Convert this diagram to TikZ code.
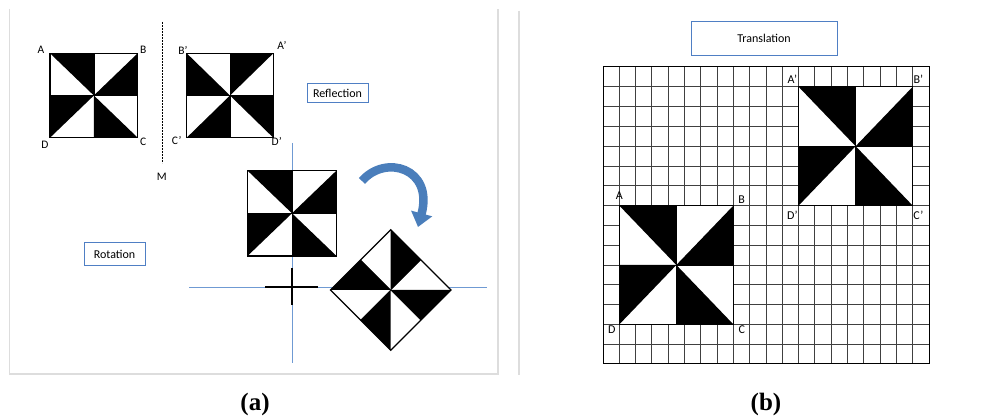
\documentclass[tikz,border=0pt]{standalone}
\usepackage{fontspec}
\setmainfont{Carlito}
\newfontfamily\capfont{Liberation Serif}
\usetikzlibrary{arrows.meta}

\definecolor{boxblue}{HTML}{4F7FC4}
\definecolor{axisblue}{HTML}{6F9AD3}
\definecolor{arrowblue}{HTML}{4A7EBB}
\definecolor{framegray}{HTML}{DDDDDD}

% one pinwheel square, drawn on [-1,1]x[-1,1]
\tikzset{
  pinwheel/.pic={
    \fill[white] (-1,-1) rectangle (1,1);
    \fill[black] (-1,-1) -- (0,-1) -- (0,0) -- cycle;
    \fill[black] (0,0) -- (1,-1) -- (1,0) -- cycle;
    \fill[black] (-1,0) -- (0,0) -- (-1,1) -- cycle;
    \fill[black] (0,0) -- (1,1) -- (0,1) -- cycle;
    \draw[line width=0.5pt] (-1,0) -- (1,0) (0,-1) -- (0,1);
    \draw[line width=1.3pt] (-1,-1) rectangle (1,1);
  }
}

\begin{document}
\begin{tikzpicture}[
    x=1pt, y=-1pt,
    every node/.style={inner sep=0pt},
    ptlabel/.style={font=\fontsize{11.5}{13}\selectfont},
    gridlabel/.style={font=\fontsize{12}{14}\selectfont},
    tagbox/.style={draw=boxblue, line width=1pt, fill=white,
      minimum width=61pt, minimum height=19pt, font=\fontsize{12}{14}\selectfont},
    caption/.style={font=\capfont\bfseries\fontsize{25}{27}\selectfont},
    axis/.style={axisblue, line width=0.9pt},
    gridline/.style={black!75, line width=0.9pt}
]
\useasboundingbox (0,0) rectangle (997,419);

% panel frame and separator
\draw[framegray, line width=1.3pt] (9.5,9) -- (9.5,374) -- (498,374) -- (498,9);
\draw[framegray, line width=1.3pt] (519,11) -- (519,375);

% reflection
\pic[xscale=43.85, yscale=42.2] at (93.85,95.5) {pinwheel};
\pic[xscale=-43.3, yscale=42.2] at (230,95.5) {pinwheel};
\draw[line width=1.2pt, dash pattern=on 2pt off 1pt] (162.5,22) -- (162.5,163);
\node[ptlabel] (lA) at (41,50) {A};
\node[ptlabel] (lB) at (143.3,50) {B};
\node[ptlabel] (lC) at (143.3,141.7) {C};
\node[ptlabel] (lD) at (45,145) {D};
\node[ptlabel] (mB) at (183,50) {B’};
\node[ptlabel] (mA) at (282,45) {A’};
\node[ptlabel] (mC) at (176.7,140) {C’};
\node[ptlabel] (mD) at (276.7,141.7) {D’};
\node[ptlabel] (mirror) at (161.7,176.7) {M};
\node[tagbox] (reflect) at (337.5,93.3) {Reflection};

% rotation
\draw[axis] (292,143) -- (292,363);
\draw[axis] (189,287) -- (487,287);
\draw[line width=1.6pt] (265,287) -- (318,287) (292,268) -- (292,305);
\pic[xscale=44.5, yscale=42.7] at (292,213.3) {pinwheel};
\pic[rotate=45, scale=42.6] at (390.7,290) {pinwheel};
\draw[arrowblue, line width=8.5pt, -{Triangle[width=21pt, length=14pt]}]
  (362,181) .. controls (385,154) and (434,168) .. (418,227);
\node[tagbox, minimum height=23pt] (rotate) at (114.5,254.5) {Rotation};

% translation
\node[tagbox, minimum width=146pt, minimum height=34pt] (translate) at (764,38.7) {Translation};
\begin{scope}[shift={(603,67)}, x=16.3pt, y=-19.8pt]
  \foreach \c in {1,...,19} \draw[gridline] (\c,0) -- (\c,15);
  \foreach \r in {1,...,14} \draw[gridline] (0,\r) -- (20,\r);
  \draw[line width=1pt] (0,0) rectangle (20,15);
  \pic[xscale=3.5, yscale=3] at (4.5,10) {pinwheel};
  \pic[xscale=3.5, yscale=3] at (15.5,4) {pinwheel};
\end{scope}
\node[gridlabel] (gA) at (619.3,195.7) {A};
\node[gridlabel] (gB) at (741.7,200) {B};
\node[gridlabel] (gC) at (741.7,330) {C};
\node[gridlabel] (gD) at (611.7,330) {D};
\node[gridlabel] (tA) at (792.3,79) {A’};
\node[gridlabel] (tB) at (918.3,79) {B’};
\node[gridlabel] (tC) at (918.3,215) {C’};
\node[gridlabel] (tD) at (792.3,215) {D’};

% captions
\node[caption] (capa) at (255,404) {(a)};
\node[caption] (capb) at (766,404) {(b)};
\end{tikzpicture}
\end{document}
